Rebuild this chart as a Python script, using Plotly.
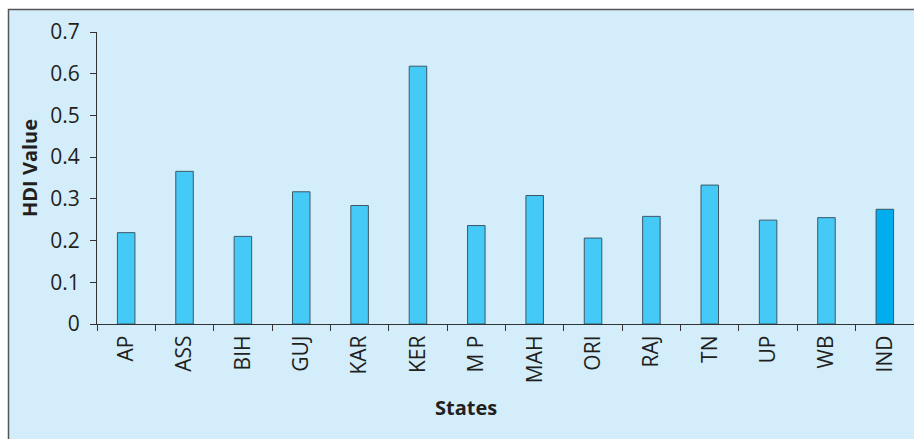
import plotly.graph_objects as go

states = ["AP", "ASS", "BIH", "GUJ", "KAR", "KER", "M P", "MAH", "ORI", "RAJ", "TN", "UP", "WB", "IND"]
hdi_values = [0.219, 0.366, 0.210, 0.317, 0.284, 0.618, 0.236, 0.308, 0.206, 0.258, 0.333, 0.249, 0.255, 0.275]
y_ticks = [0, 0.1, 0.2, 0.3, 0.4, 0.5, 0.6, 0.7]
y_tick_labels = ["0", "0.1", "0.2", "0.3", "0.4", "0.5", "0.6", "0.7"]

bar_colors = ["#45C9F6"] * (len(states) - 1) + ["#00AEEF"]

W, H = 914, 439
L, R, T, B = 97, 0, 32, 115
pw, ph = W - L - R, H - T - B

def px_x(x):
    return (x - L) / pw

def px_y(y):
    return (H - B - y) / ph

fig = go.Figure(go.Bar(
    x=states, y=hdi_values,
    marker=dict(color=bar_colors, line=dict(color="#3d5866", width=1)),
))

font = "Open Sans, Noto Sans, sans-serif"

fig.update_layout(
    width=W, height=H,
    margin=dict(l=L, r=R, t=T, b=B, pad=0),
    paper_bgcolor="white",
    plot_bgcolor="rgba(0,0,0,0)",
    bargap=0.7,
    showlegend=False,
    font=dict(family=font, color="#231f20"),
    xaxis=dict(
        type="category", showgrid=False, showline=True, linecolor="#333333", linewidth=1.2,
        ticks="outside", tickson="boundaries", ticklen=6, tickcolor="#333333", tickwidth=1.2,
        tickangle=-90, tickfont=dict(size=21, family=font, color="#231f20"),
        ticklabelstandoff=2,
        zeroline=False,
    ),
    yaxis=dict(
        range=[0, 0.7], tickvals=y_ticks, ticktext=y_tick_labels,
        showgrid=False, showline=True, linecolor="#333333", linewidth=1.2,
        ticks="outside", ticklen=6, tickcolor="#333333", tickwidth=1.2,
        tickfont=dict(size=21, family=font, color="#231f20"),
        ticklabelstandoff=6,
        zeroline=False,
    ),
    shapes=[
        dict(type="rect", xref="paper", yref="paper", layer="below",
             x0=px_x(8.5), x1=px_x(W + 5), y0=px_y(H + 5), y1=px_y(9.5),
             fillcolor="#D3EEFA", line=dict(color="#555555", width=1.5)),
    ],
    annotations=[
        dict(text="<b>HDI Value</b>", xref="paper", yref="paper",
             x=px_x(29), y=px_y(168), textangle=-90, showarrow=False,
             font=dict(size=20, family=font, color="#231f20"),
             xanchor="center", yanchor="middle"),
        dict(text="<b>States</b>", xref="paper", yref="paper",
             x=px_x(466), y=px_y(407), showarrow=False,
             font=dict(size=20, family=font, color="#231f20"),
             xanchor="center", yanchor="middle"),
    ],
)

fig.write_html("out.html")
